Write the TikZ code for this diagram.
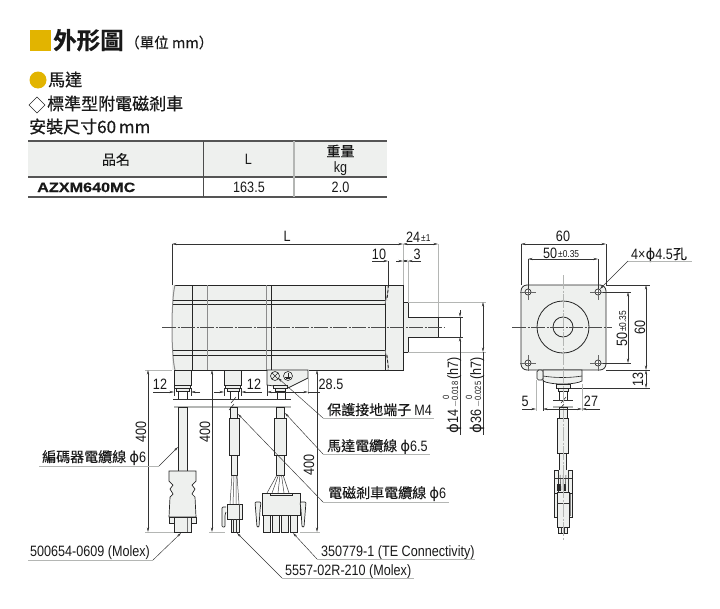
\documentclass[tikz,border=0pt]{standalone}
\usepackage{fontspec}
\usetikzlibrary{arrows.meta}
\setmainfont[FakeStretch=0.84]{Liberation Sans}
\newfontfamily\cjk[FakeBold=0.3]{Noto Sans CJK TC}
\newfontfamily\cjkh[FakeBold=0.7]{Noto Sans CJK TC}
\newfontfamily\cjkb[FakeBold=0.5]{Noto Sans CJK TC Bold}
\newfontfamily\phfont{DejaVu Sans}
\newfontfamily\wideb[FakeStretch=1.2,FakeBold=0.3]{Liberation Sans Bold}
\newcommand{\ph}{{\phfont ϕ}}
\newcommand{\lt}[1]{{\fontsize{15}{15}\selectfont\rmfamily #1}}
\definecolor{gold}{HTML}{E2B400}
\definecolor{body}{HTML}{EEF0EE}
\definecolor{extg}{HTML}{B4B6B4}
\definecolor{rule}{HTML}{555555}
\tikzset{
  x=1pt,y=-1pt,
  txt/.style={inner sep=0pt,font=\fontsize{15}{15}\selectfont,text=black!90},
  lab/.style={txt,anchor=base west,font=\fontsize{14}{14}\selectfont\cjk},
  small/.style={font=\fontsize{10}{10}\selectfont},
  small2/.style={font=\fontsize{9}{9}\selectfont},
  dimline/.style={line width=.45pt,black!80,{Stealth[length=4.5pt,width=2.2pt]}-{Stealth[length=4.5pt,width=2.2pt]}},
  dimr/.style={line width=.45pt,black!80,-{Stealth[length=4.5pt,width=2.2pt]}},
  dimo/.style={line width=.45pt,black!80},
  ext/.style={line width=1pt,extg},
  under/.style={line width=1pt,extg},
  leader/.style={line width=.45pt,black!80,-{Stealth[length=4.5pt,width=2.2pt]}},
  part/.style={fill=body,draw=black!85,line width=.7pt},
  edge/.style={line width=.8pt,black!85},
  gedge/.style={line width=1pt,black!45},
  cline/.style={line width=.45pt,black!70,dash pattern=on 14pt off 1.5pt on 2pt off 1.5pt},
}
\begin{document}
\begin{tikzpicture}
\useasboundingbox (0,0) rectangle (720,608);
% ------ heading
\fill[gold] (30,30) rectangle (51,51);
\node[txt,anchor=base west,font=\fontsize{23.5}{23.5}\selectfont\cjkb] (title) at (53,49) {外形圖};
\node[txt,anchor=base west,font=\fontsize{14.5}{14.5}\selectfont\cjk] (unit) at (125,48) {（單位 mm）};
\fill[gold] (38,80) circle (8.5);
\node[txt,anchor=base west,font=\fontsize{17}{17}\selectfont\cjkh] (h1) at (48,86) {馬達};
\draw[black!85,line width=.6pt] (29,105)--(37,97)--(45,105)--(37,113)--cycle;
\node[txt,anchor=base west,font=\fontsize{17}{17}\selectfont\cjkh] (h2) at (47,110) {標準型附電磁剎車};
\node[txt,anchor=base west,font=\fontsize{17}{17}\selectfont\cjkh] (h3) at (29,133) {安裝尺寸60\,mm};
% ------ table
\fill[body] (28,141) rectangle (387,177);
\draw[rule,line width=1.2pt] (28,141)--(387,141) (28,177)--(387,177) (28,197)--(387,197);
\draw[black!70,line width=.7pt] (203,141)--(203,197);
\draw[extg,line width=1.2pt] (294,141)--(294,197);
\node[txt,font=\fontsize{14}{14}\selectfont\cjk] (c1) at (116,159.5) {品名};
\node[txt] (c2) at (248.5,159.5) {L};
\node[txt,font=\fontsize{14}{14}\selectfont\cjk] (c3) at (340.5,151) {重量};
\node[txt] (c4) at (340.5,168.5) {kg};
\node[txt,anchor=base west,font=\fontsize{13.5}{13.5}\selectfont\wideb] (r1) at (37,192) {AZXM640MC};
\node[txt] (r2) at (249,187.5) {163.5};
\node[txt] (r3) at (340.5,187.5) {2.0};
% ------ side view: motor
\fill[body] (172,285) rectangle (403,370);
\fill[body] (403,302) rectangle (408,352);
\draw[edge] (175,285)--(403,285)--(403,370)--(175,370);
\draw[gedge] (175,285) .. controls (171,300) and (171,355) .. (175,370);
\draw[edge] (173,300)--(385,300) (173,304)--(385,304) (173,350)--(385,350) (173,355)--(385,355);
\draw[edge] (192,285)--(192,370) (271,285)--(271,370) (385,285)--(385,370);
\draw[gedge] (207,285)--(207,370);
\draw[line width=1.3pt,black!45] (266.5,285)--(266.5,370);
\draw[edge] (403,302) rectangle (408,352);
\fill[body] (408,317) rectangle (438,337);
\draw[edge] (408,317)--(438,317)--(438,337)--(408,337);
% break curves near the end
\draw[dimo] (388,261)--(388,285);
\draw[gedge,line width=.7pt] (388,285) .. controls (389,292) and (386,298) .. (385,304)
   (385,350) .. controls (386,356) and (389,362) .. (388,370);
\draw[edge,densely dashed] (388.5,285)--(387,300) (387,355)--(388.5,370);
% center line
\draw[cline] (162,327)--(445,327);
% stubs
\draw[part] (174,370) rectangle (191,385);
\draw[part] (174.5,385) rectangle (190.5,388);
\draw[part] (176,388) rectangle (189,391);
\draw[edge] (178,391)--(178,400) (187,391)--(187,400);
\draw[part] (224,370) rectangle (241.5,385);
\draw[part] (225,385) rectangle (240.5,388);
\draw[part] (227,388) rectangle (239,391);
\draw[edge] (230,391)--(230,400) (238,391)--(238,400);
% terminal box
\draw[part] (267,370)--(308,370)--(308,378)--(288,388)--(267,385)--cycle;
\draw[line width=.6pt,black!85] (275,376) circle (4.5) (288,376) circle (4.5);
\draw[line width=.5pt,black!85] (272,373)--(278,379) (278,373)--(272,379);
\draw[line width=.5pt,black!85] (288,372.5)--(288,377) (285,377)--(291,377) (286,378.5)--(290,378.5);
\draw[part] (273,385) rectangle (287,388);
\draw[part] (275,388) rectangle (285,391);
\draw[edge] (277,391)--(277,400) (285,391)--(285,400);
% break lines
\draw[line width=.5pt,black!80] (173,399.5)--(291,399.5);
\draw[line width=1.2pt,extg] (174,407)--(291,407);
\draw[line width=.5pt,black!85] (231,403)--(236,397) (229,410)--(234,404);
% encoder cable
\draw[part] (178,407) rectangle (187,471);
\draw[part] (169,471)--(196,471)--(196,481)--(192,485)--(195,489)--(192,494)--(195,497)--(196,517)--(169,517)--(170,497)--(173,494)--(170,489)--(173,485)--(169,481)--cycle;
\draw[part] (169,517) rectangle (174,523);
\draw[part] (191,517) rectangle (196,523);
\draw[part] (174,517) rectangle (191,532);
\draw[line width=.8pt,black!55] (187,518)--(187,532);
% motor cable
\draw[part] (230.5,407) rectangle (237.5,418);
\draw[part] (229,418) rectangle (239,455);
\draw[part] (231,455) rectangle (237,475);
\draw[line width=.5pt,black!75] (232,475)--(230,504) (234,475)--(233,504) (236,475)--(236,504) (237,475)--(239,504);
\draw[part] (227,504) rectangle (242,519);
\draw[line width=.8pt,black!70] (239,504)--(239,519);
\draw[part] (231,519) rectangle (239,532);
\draw[line width=.8pt,black!80] (233.5,519)--(233.5,532) (236,519)--(236,532);
\draw[part,rounded corners=1pt] (226,507)--(222,507)--(222,527)--(225,527)--(225,515)--(226,512);
% power cable
\draw[part] (276,407) rectangle (284,418);
\draw[part] (274,418) rectangle (286,455);
\draw[part] (276,455) rectangle (284,475);
\foreach \a/\b in {277/267,278.5/272,280/278,281.5/284,283/289}
  \draw[line width=.5pt,black!75] (\a,475)--(\b,493);
\draw[part] (262,493) rectangle (300,515);
\draw[part] (270,493) rectangle (292,495.5);
\foreach \a in {263,272,281,290}
  \draw[part] (\a,515) rectangle (\a+7.5,532);
\draw[part,rounded corners=1pt] (255,502)--(261,502)--(260,510)--(259,527)--(257,527)--cycle;
\draw[part,rounded corners=1pt] (306,502)--(300,502)--(301,510)--(302,527)--(304,527)--cycle;
% ------ side view: dimensions
\draw[line width=.5pt,black!80] (172,244)--(172,285);
\draw[ext] (403,244)--(403,285) (438,244)--(438,317) (408,261)--(408,302);
\draw[dimline] (172,244)--(403,244);
\draw[dimline] (403,244)--(438,244);
\node[txt] (dL) at (287,236) {L};
\node[txt,anchor=base west] (d24) at (406,242) {24};
\node[txt,anchor=base west,small] (d24t) at (421,241) {±1};
\draw[dimr] (372,261)--(388,261);
\draw[dimr] (396,261)--(403,261);
\draw[dimline] (403,261)--(408,261);
\draw[dimr] (421,261)--(408,261);
\node[txt] (d10) at (379,254) {10};
\node[txt] (d3) at (417,254) {3};
% 12s
\draw[dimr] (153,392)--(174,392);
\draw[dimr] (200,392)--(191,392);
\draw[dimo] (174,388)--(174,396) (191,388)--(191,396);
\node[txt] (d12a) at (160,384.5) {12};
\draw[dimr] (214,392)--(224,392);
\draw[dimr] (262,392)--(241.5,392);
\draw[dimo] (224,388)--(224,396) (241.5,388)--(241.5,396);
\node[txt] (d12b) at (254,384.5) {12};
% 28.5
\draw[ext] (308,370)--(308,394) ;
\draw[dimo] (267,385)--(267,396);
\draw[dimline] (267,392)--(308,392);
\draw[dimo] (308,392)--(320,392);
\node[txt] (d285) at (331,384.5) {28.5};
% 400s
\draw[ext] (145,370)--(172,370) (145,532)--(174,532) (209,532)--(225,532) (300,532)--(320,532);
\draw[dimline] (148,370)--(148,532);
\draw[dimline] (212,370)--(212,532);
\draw[dimline] (317,370)--(317,532);
\node[txt,rotate=90] (v1) at (141,432) {400};
\node[txt,rotate=90] (v2) at (205,432) {400};
\node[txt,rotate=90] (v3) at (309,465) {400};
% shaft dims
\draw[dimo] (438,317)--(463,317) (438,337)--(463,337);
\draw[ext] (408,302)--(486,302) (408,352)--(486,352);
\draw[dimr] (460,310)--(460,317);
\draw[dimr] (460,435)--(460,337);
\draw[dimo] (460,317)--(460,337);
\draw[dimline] (483,302)--(483,352);
\draw[dimo] (483,352)--(483,435);
\node[txt,rotate=90,anchor=base west] (p14) at (458,434) {\ph14};
\node[txt,rotate=90,anchor=base west,small2] (p14a) at (458,408) {$-$0.018};
\node[txt,rotate=90,anchor=base west,small2] (p14b) at (449,400) {0};
\node[txt,rotate=90,anchor=base west] (p14c) at (458,380) {(h7)};
\node[txt,rotate=90,anchor=base west] (p36) at (481,434) {\ph36};
\node[txt,rotate=90,anchor=base west,small2] (p36a) at (481,408) {$-$0.025};
\node[txt,rotate=90,anchor=base west,small2] (p36b) at (472,400) {0};
\node[txt,rotate=90,anchor=base west] (p36c) at (481,380) {(h7)};
% ------ leaders with labels
\node[lab] (a1) at (327,415) {保護接地端子 \lt{M4}};
\coordinate (a1s) at (323,418);
\draw[under] (a1s)--(434,418);
\draw[leader] (a1s)--(278,378);
\node[lab] (a2) at (327,451) {馬達電纜線 \lt{\ph6.5}};
\coordinate (a2s) at (323,454);
\draw[under] (a2s)--(430,454);
\draw[leader] (a2s)--(285,413);
\node[lab] (a3) at (328,498) {電磁剎車電纜線 \lt{\ph6}};
\coordinate (a3s) at (323,502);
\draw[under] (a3s)--(449,502);
\draw[leader] (a3s)--(238,414);
\node[lab] (a4) at (42,462) {編碼器電纜線 \lt{\ph6}};
\coordinate (a4s) at (159,466);
\draw[under] (39,466)--(a4s);
\draw[leader] (a4s)--(178,447);
\node[txt,anchor=base west] (a5) at (30,556) {500654-0609 (Molex)};
\coordinate (a5s) at (153,560);
\draw[under] (28,560)--(a5s);
\draw[leader] (a5s)--(181,533);
\node[txt,anchor=base west] (a6) at (285,575) {5557-02R-210 (Molex)};
\coordinate (a6s) at (282,578);
\draw[under] (a6s)--(414,578);
\draw[leader] (a6s)--(237,533);
\node[txt,anchor=base west] (a7) at (321,556) {350779-1 (TE Connectivity)};
\coordinate (a7s) at (317,559);
\draw[under] (a7s)--(475,559);
\draw[leader] (a7s)--(293,533);
% ------ front view
\fill[body,rounded corners=6pt] (521,285) rectangle (606,370);
\draw[edge,rounded corners=6pt] (521,285) rectangle (606,370);
\draw[edge] (563,327) circle (10);
\draw[edge] (563,327) circle (26);
\foreach \hx/\hy in {528/292,598/292,528/363,598/363}{
  \draw[line width=.7pt,black!85,fill=white] (\hx,\hy) circle (3);
  \draw[line width=.45pt,black!60] (\hx-8,\hy)--(\hx+8,\hy) (\hx,\hy-8)--(\hx,\hy+8);
}
\draw[part] (543,370)--(582,370)--(582,381) .. controls (575,385) and (550,385) .. (543,381)--cycle;
\draw[line width=.6pt,black!85] (543,376) .. controls (555,378) and (570,378) .. (582,376);
\draw[part,rounded corners=1.5pt] (537,370) rectangle (543,380);
\draw[part] (556,384) rectangle (570,388);
\draw[part] (558,388) rectangle (568,391);
\draw[edge] (559,391)--(559,400) (567,391)--(567,400);
\draw[line width=.5pt,black!80] (553,400)--(573,400);
\draw[line width=1.2pt,extg] (553,407)--(573,407);
\draw[line width=.5pt,black!85] (561,403)--(566,397) (559,410)--(564,404);
\draw[part] (559,407) rectangle (567,418);
\draw[part] (557,418) rectangle (568,453);
\draw[part] (559,453) rectangle (566,475);
\draw[part] (554,470) rectangle (572,493);
\fill[body] (558,470) rectangle (568,493);
\draw[line width=.5pt,black!80] (558,470)--(558,493) (568,470)--(568,493) (554,478)--(572,478);
\fill[black!85] (557,484) rectangle (561,491);
\fill[black!85] (564,484) rectangle (566,491);
\draw[line width=.5pt,black!75] (560,475)--(561,490) (566,475)--(565,490) (563,475)--(563,490);
\draw[part] (554,493) rectangle (572,517);
\draw[part] (557,492) rectangle (569,527);
\draw[line width=1pt,black!80] (557,503)--(569,503);
\draw[line width=1.2pt,black!50] (570.5,494)--(570.5,516);
\draw[part] (558,527) rectangle (567,533);
\draw[line width=.5pt,black!80] (561,527)--(561,533) (564,527)--(564,533);
% center lines
\draw[line width=.6pt,extg,dash pattern=on 14pt off 1.5pt on 2pt off 1.5pt] (563,275)--(563,541);
\draw[cline] (512,327)--(612,327);
% front dims
\draw[dimo] (521,244)--(521,285) (606,244)--(606,285) (528,259)--(528,289) (598,259)--(598,289);
\draw[dimline] (521,244)--(606,244);
\draw[dimline] (528,259)--(598,259);
\node[txt] (f60) at (563,236) {60};
\node[txt,anchor=base west] (f50) at (543,258) {50};
\node[txt,anchor=base west,small] (f50t) at (558,257) {±0.35};
\node[txt,anchor=base west] (f4) at (631,259) {4×\ph4.5{\fontsize{14}{14}\selectfont\cjk 孔}};
\coordinate (f4s) at (628,261);
\draw[under] (f4s)--(692,261);
\draw[leader] (f4s)--(600,289);
\draw[dimo] (603,292)--(631,292) (603,363)--(631,363);
\draw[dimo] (606,285)--(650,285) (606,370)--(650,370) (571,388)--(650,388);
\draw[dimline] (628,292)--(628,363);
\draw[dimline] (646,285)--(646,370);
\draw[dimline] (646,370)--(646,388);
\node[txt,rotate=90,anchor=base west] (v50) at (627,347) {50};
\node[txt,rotate=90,anchor=base west,small] (v50t) at (626,332) {±0.35};
\node[txt,rotate=90] (v60) at (640,327) {60};
\node[txt,rotate=90] (v13) at (638,379) {13};
\draw[ext] (536,380)--(536,411) (582,384)--(582,411);
\draw[dimo] (543,380)--(543,411);
\draw[dimr] (522,409)--(536,409);
\draw[dimline] (543,409)--(582,409);
\draw[dimr] (600,409)--(582,409);
\node[txt] (f5) at (525,401) {5};
\node[txt] (f27) at (591,401) {27};
\end{tikzpicture}
\end{document}
